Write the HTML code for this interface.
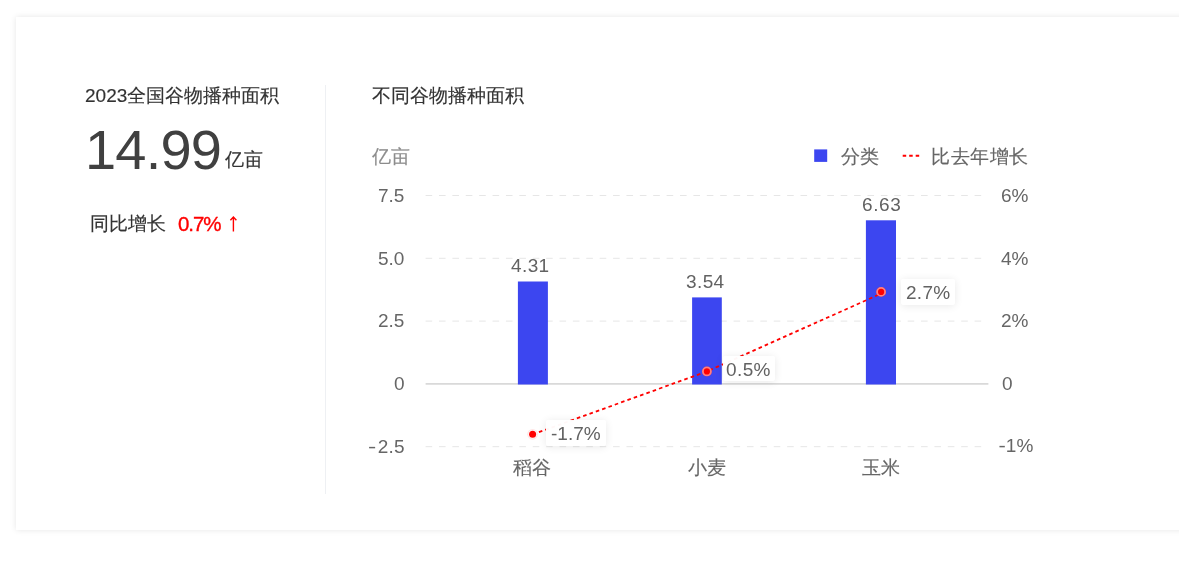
<!DOCTYPE html>
<html><head><meta charset="utf-8">
<style>
html,body{margin:0;padding:0;background:#fff;width:1179px;height:574px;overflow:hidden;}
body{position:relative;font-family:"Liberation Sans",sans-serif;}
.card{position:absolute;left:16px;top:17px;width:1240px;height:512.5px;background:#fff;box-shadow:0 0 6px rgba(0,0,0,0.10);}
.t{position:absolute;white-space:nowrap;line-height:1;will-change:transform;}
.c{-webkit-text-stroke:0.15px currentColor;}
.divider{position:absolute;left:325px;top:85px;width:1px;height:409px;background:#eef0f3;}
.hy{display:inline-block;margin-right:2px;transform:scaleX(1.3);}
.lbox{position:absolute;background:rgba(255,255,255,0.97);border-radius:3px;box-shadow:0 1px 8px rgba(0,0,0,0.09);}
svg{position:absolute;left:0;top:0;}
</style></head><body>
<div class="card"></div>
<div class="t c" style="left:85px;top:86px;font-size:19px;color:#333;">2023全国谷物播种面积</div>
<div class="t" style="left:85px;top:122px;font-size:56px;color:#404040;letter-spacing:-0.8px;">14.99</div>
<div class="t c" style="left:225px;top:150px;font-size:19px;color:#333;">亿亩</div>
<div class="t c" style="left:90px;top:214px;font-size:19px;color:#333;">同比增长</div>
<div class="t" style="left:177.5px;top:213.5px;font-size:20.5px;color:#f00;letter-spacing:-1.1px;-webkit-text-stroke:0.35px #f00;">0.7%</div>

<div class="divider"></div>
<div class="t c" style="left:371.5px;top:86px;font-size:19px;color:#333;">不同谷物播种面积</div>
<div class="t c" style="left:372px;top:147px;font-size:19px;color:#8c8c8c;">亿亩</div>
<div class="t c" style="left:841px;top:147px;font-size:19px;color:#666;">分类</div>
<div class="t c" style="left:931px;top:147px;font-size:19px;color:#666;letter-spacing:0.5px;">比去年增长</div>

<svg width="1179" height="574" viewBox="0 0 1179 574">
  <path d="M233.4 231.6V217.4M230.4 220.3L233.4 217L236.4 220.3" fill="none" stroke="#f00" stroke-width="1.4"/>
  <g stroke="#e6e6e6" stroke-width="1" stroke-dasharray="6.6 6.79">
    <line x1="425.6" y1="195.5" x2="988" y2="195.5"/>
    <line x1="425.6" y1="258.3" x2="988" y2="258.3"/>
    <line x1="425.6" y1="321.1" x2="988" y2="321.1"/>
    <line x1="425.6" y1="446.7" x2="988" y2="446.7"/>
  </g>
  <line x1="425.6" y1="383.9" x2="988.4" y2="383.9" stroke="#d9d9d9" stroke-width="1.6"/>
  <rect x="517.9" y="281.5" width="30" height="103" fill="#3c46f0"/>
  <rect x="692.1" y="297.4" width="29.7" height="87.1" fill="#3c46f0"/>
  <rect x="865.9" y="220.3" width="30.1" height="164.2" fill="#3c46f0"/>
  <rect x="814.2" y="149.4" width="13" height="12.5" fill="#3c46f0"/>
  <line x1="902.7" y1="155.8" x2="919.5" y2="155.8" stroke="#f00" stroke-width="2" stroke-dasharray="3.5 3"/>
  <polyline points="532.6,434.4 706.9,371.45 881.1,293.6" fill="none" stroke="#f00" stroke-width="1.8" stroke-dasharray="3.6 3.12"/>
  <circle cx="532.6" cy="434.3" r="5.4" fill="rgba(255,0,0,0.10)"/>
  <circle cx="532.6" cy="434.3" r="4.1" fill="#fff"/>
  <circle cx="532.6" cy="434.3" r="3.5" fill="#f00"/>
  <g fill="#f00">
    <circle cx="706.9" cy="371.45" r="4.9"/>
    <circle cx="881.1" cy="291.9" r="4.9"/>
  </g>
  <g fill="none" stroke="rgba(255,255,255,0.5)" stroke-width="1.8">
    <circle cx="706.9" cy="371.45" r="4"/>
    <circle cx="881.1" cy="291.9" r="4"/>
  </g>
</svg>

<div class="t r" style="right:775px;top:186px;font-size:19px;color:#666;">7.5</div>
<div class="t r" style="right:775px;top:248.5px;font-size:19px;color:#666;">5.0</div>
<div class="t r" style="right:775px;top:311px;font-size:19px;color:#666;">2.5</div>
<div class="t r" style="right:774px;top:373.5px;font-size:19px;color:#666;">0</div>
<div class="t r" style="right:774.5px;top:437px;font-size:19px;color:#666;letter-spacing:0.3px;"><span class="hy">-</span>2.5</div>

<div class="t" style="left:1001px;top:186px;font-size:19px;color:#666;">6%</div>
<div class="t" style="left:1001px;top:248.5px;font-size:19px;color:#666;">4%</div>
<div class="t" style="left:1001px;top:311px;font-size:19px;color:#666;">2%</div>
<div class="t" style="left:1001.5px;top:373.5px;font-size:19px;color:#666;">0</div>
<div class="t" style="left:999px;top:436px;font-size:19px;color:#666;"><span class="hy" style="margin-right:0.5px;transform:scaleX(1.15)">-</span>1%</div>

<div class="t" style="left:511px;top:256px;font-size:19px;color:#626262;letter-spacing:0.4px;">4.31</div>
<div class="t" style="left:686px;top:272px;font-size:19px;color:#626262;letter-spacing:0.4px;">3.54</div>
<div class="t" style="left:861.5px;top:194.5px;font-size:19px;color:#626262;letter-spacing:0.6px;">6.63</div>

<div class="lbox" style="left:546px;top:420px;width:60px;height:26px;"></div>
<div class="lbox" style="left:723px;top:356px;width:52px;height:25px;"></div>
<div class="lbox" style="left:901px;top:278.5px;width:53.5px;height:26px;"></div>
<div class="t" style="left:551px;top:423.5px;font-size:19px;color:#626262;">-1.7%</div>
<div class="t" style="left:726px;top:359.5px;font-size:19px;color:#626262;letter-spacing:0.4px;">0.5%</div>
<div class="t" style="left:905.5px;top:282.5px;font-size:19px;color:#626262;letter-spacing:0.3px;">2.7%</div>

<div class="t c" style="left:513px;top:458px;font-size:19px;color:#666;">稻谷</div>
<div class="t c" style="left:688px;top:458px;font-size:19px;color:#666;">小麦</div>
<div class="t c" style="left:862px;top:458px;font-size:19px;color:#666;">玉米</div>
</body></html>
